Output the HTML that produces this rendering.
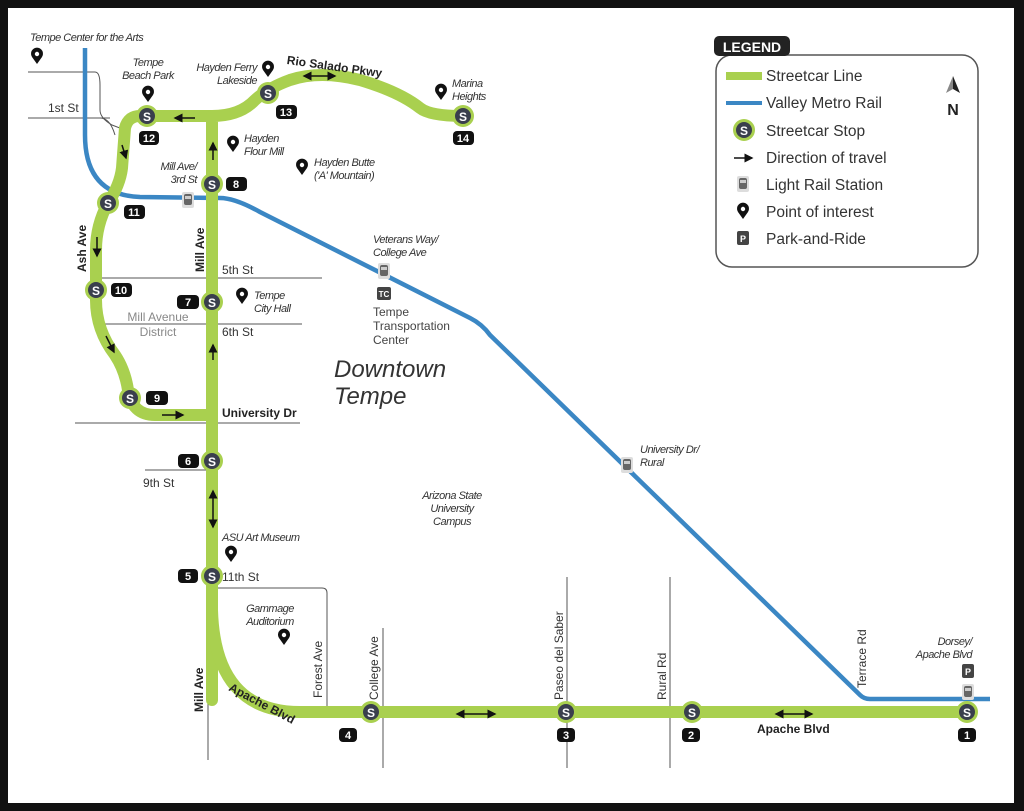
<!DOCTYPE html>
<html><head><meta charset="utf-8"><style>
html,body{margin:0;padding:0;background:#111;}
svg{display:block}
text{font-family:"Liberation Sans",sans-serif;}
.it{font-style:italic;font-size:11px;fill:#333;letter-spacing:-0.5px}
.st{font-size:12px;fill:#333}
.b{font-weight:bold;font-size:12px;fill:#222}
.lg{font-size:15.5px;fill:#333}
</style></head><body>
<svg width="1024" height="811" viewBox="0 0 1024 811" xmlns="http://www.w3.org/2000/svg">
<defs>
<g id="stop"><circle r="11" fill="#a9d04f"/><circle r="8" fill="#3a3f4d"/><text y="5" text-anchor="middle" font-size="12" font-weight="bold" fill="#fff" font-family="Liberation Sans">S</text></g>
<g id="pin"><path d="M0,7 L-5,0 A6,6 0 1 1 5,0 Z" fill="#111"/><circle cy="-3" r="2.2" fill="#fff"/></g>
<g id="rail"><rect x="-6" y="-8" width="12" height="16" rx="2" fill="#ddd"/><rect x="-4" y="-6" width="8" height="11" rx="2" fill="#666"/><rect x="-3" y="-4" width="6" height="3" fill="#ccc"/></g>
<marker id="ah" markerWidth="6" markerHeight="6" refX="5" refY="3" orient="auto"><path d="M0,0 L6,3 L0,6Z" fill="#111"/></marker>
<marker id="ahs" markerWidth="6" markerHeight="6" refX="1" refY="3" orient="auto-start-reverse"><path d="M0,0 L6,3 L0,6Z" fill="#111"/></marker>
</defs>
<rect x="8" y="8" width="1006" height="795" fill="#fff"/>
<g stroke="#555" stroke-width="1" fill="none">
<line x1="28" y1="72" x2="95" y2="72"/><path d="M95,72 Q100,72 100,85 L100,110 Q100,118 112,125 L125,130"/>
<line x1="28" y1="118" x2="110" y2="118"/><path d="M100,118 Q110,118 115,135"/>
<line x1="100" y1="278" x2="322" y2="278"/>
<line x1="100" y1="324" x2="302" y2="324"/>
<line x1="75" y1="423" x2="300" y2="423"/>
<line x1="145" y1="470" x2="212" y2="470"/>
<path d="M212,588 L322,588 Q327,588 327,593 L327,706"/>
<line x1="208" y1="600" x2="208" y2="760"/>
<line x1="383" y1="628" x2="383" y2="768"/>
<line x1="567" y1="577" x2="567" y2="768"/>
<line x1="670" y1="577" x2="670" y2="768"/>
</g>
<path d="M85,48 L85,135 Q85,195 140,197 L220,198 Q235,198 260,212 L470,318 Q482,324 490,335 L860,695 Q864,699 870,699 L990,699" stroke="#3b87c4" stroke-width="4.5" fill="none"/>
<g stroke="#a9d04f" stroke-width="12" fill="none" stroke-linejoin="round" stroke-linecap="round">
<path d="M212,116 L140,116 Q128,116 125,128 L122,168 Q120,185 108,203 Q96,225 96,250 L96,300 Q96,330 115,355 Q125,370 128,390 Q132,415 155,415 L212,415"/>
<path d="M212,700 L212,116 Q240,116 255,100 Q268,88 290,80 Q320,70 360,80 Q400,92 420,108 Q430,116 463,116"/>
<path d="M212,578 L212,610 Q215,712 300,712 L967,712"/>
</g>
<g stroke="#111" stroke-width="1.5">
<line x1="195" y1="118" x2="175" y2="118" marker-end="url(#ah)"/>
<line x1="213" y1="160" x2="213" y2="143" marker-end="url(#ah)"/>
<line x1="213" y1="360" x2="213" y2="345" marker-end="url(#ah)"/>
<line x1="122" y1="145" x2="126" y2="158" marker-end="url(#ah)"/>
<line x1="97" y1="237" x2="97" y2="256" marker-end="url(#ah)"/>
<line x1="106" y1="336" x2="114" y2="352" marker-end="url(#ah)"/>
<line x1="162" y1="415" x2="183" y2="415" marker-end="url(#ah)"/>
<line x1="213" y1="497" x2="213" y2="527" marker-start="url(#ahs)" marker-end="url(#ah)"/>
<line x1="310" y1="76" x2="335" y2="76" marker-start="url(#ahs)" marker-end="url(#ah)"/>
<line x1="463" y1="714" x2="495" y2="714" marker-start="url(#ahs)" marker-end="url(#ah)"/>
<line x1="782" y1="714" x2="812" y2="714" marker-start="url(#ahs)" marker-end="url(#ah)"/>
</g>
<use href="#stop" x="147" y="116"/><use href="#stop" x="268" y="93"/><use href="#stop" x="463" y="116"/>
<use href="#stop" x="212" y="184"/><use href="#stop" x="108" y="203"/><use href="#stop" x="96" y="290"/>
<use href="#stop" x="212" y="302"/><use href="#stop" x="130" y="398"/><use href="#stop" x="212" y="461"/>
<use href="#stop" x="212" y="576"/><use href="#stop" x="371" y="712"/><use href="#stop" x="566" y="712"/>
<use href="#stop" x="692" y="712"/><use href="#stop" x="967" y="712"/>
<g font-size="11" font-weight="bold" fill="#fff" text-anchor="middle">
<rect x="139" y="131" width="20" height="14" rx="4" fill="#111"/><text x="149" y="142">12</text>
<rect x="276" y="105" width="21" height="14" rx="4" fill="#111"/><text x="286" y="116">13</text>
<rect x="453" y="131" width="21" height="14" rx="4" fill="#111"/><text x="463" y="142">14</text>
<rect x="226" y="177" width="21" height="14" rx="4" fill="#111"/><text x="236" y="188">8</text>
<rect x="124" y="205" width="21" height="14" rx="4" fill="#111"/><text x="134" y="216">11</text>
<rect x="111" y="283" width="21" height="14" rx="4" fill="#111"/><text x="121" y="294">10</text>
<rect x="177" y="295" width="22" height="14" rx="4" fill="#111"/><text x="188" y="306">7</text>
<rect x="146" y="391" width="22" height="14" rx="4" fill="#111"/><text x="157" y="402">9</text>
<rect x="178" y="454" width="21" height="14" rx="4" fill="#111"/><text x="188" y="465">6</text>
<rect x="178" y="569" width="20" height="14" rx="4" fill="#111"/><text x="188" y="580">5</text>
<rect x="339" y="728" width="18" height="14" rx="4" fill="#111"/><text x="348" y="739">4</text>
<rect x="557" y="728" width="18" height="14" rx="4" fill="#111"/><text x="566" y="739">3</text>
<rect x="682" y="728" width="18" height="14" rx="4" fill="#111"/><text x="691" y="739">2</text>
<rect x="958" y="728" width="18" height="14" rx="4" fill="#111"/><text x="967" y="739">1</text>
</g>
<use href="#pin" x="37" y="57"/><use href="#pin" x="148" y="95"/><use href="#pin" x="268" y="70"/>
<use href="#pin" x="441" y="93"/><use href="#pin" x="233" y="145"/><use href="#pin" x="302" y="168"/>
<use href="#pin" x="242" y="297"/><use href="#pin" x="231" y="555"/><use href="#pin" x="284" y="638"/>
<use href="#rail" x="188" y="200"/><use href="#rail" x="384" y="271"/><use href="#rail" x="627" y="465"/><use href="#rail" x="968" y="692"/>
<rect x="377" y="287" width="14" height="13" rx="2" fill="#444"/><text x="384" y="297" font-size="8" fill="#fff" text-anchor="middle" font-weight="bold">TC</text>
<rect x="962" y="664" width="12" height="14" rx="2" fill="#444"/><text x="968" y="675" font-size="9" fill="#fff" text-anchor="middle" font-weight="bold">P</text>
<text class="it" x="30" y="41">Tempe Center for the Arts</text>
<text class="it" x="148" y="66" text-anchor="middle">Tempe</text><text class="it" x="148" y="79" text-anchor="middle">Beach Park</text>
<text class="it" x="257" y="71" text-anchor="end">Hayden Ferry</text><text class="it" x="257" y="84" text-anchor="end">Lakeside</text>
<text x="286" y="70" font-size="12" font-weight="bold" fill="#222" transform="rotate(8 330 70)">Rio Salado Pkwy</text>
<text class="it" x="452" y="87">Marina</text><text class="it" x="452" y="100">Heights</text>
<text class="st" x="48" y="112">1st St</text>
<text class="it" x="244" y="142">Hayden</text><text class="it" x="244" y="155">Flour Mill</text>
<text class="it" x="314" y="166">Hayden Butte</text><text class="it" x="314" y="179">('A' Mountain)</text>
<text class="it" x="197" y="170" text-anchor="end">Mill Ave/</text><text class="it" x="197" y="183" text-anchor="end">3rd St</text>
<text class="b" transform="translate(86 272) rotate(-90)">Ash Ave</text>
<text class="b" transform="translate(204 272) rotate(-90)">Mill Ave</text>
<text class="st" x="222" y="274">5th St</text>
<text class="st" x="222" y="336">6th St</text>
<text class="it" x="254" y="299">Tempe</text><text class="it" x="254" y="312">City Hall</text>
<text x="158" y="321" font-size="12" fill="#888" text-anchor="middle">Mill Avenue</text>
<text x="158" y="336" font-size="12" fill="#888" text-anchor="middle">District</text>
<text class="it" x="373" y="243">Veterans Way/</text><text class="it" x="373" y="256">College Ave</text>
<text x="373" y="316" font-size="12" fill="#444">Tempe</text><text x="373" y="330" font-size="12" fill="#444">Transportation</text><text x="373" y="344" font-size="12" fill="#444">Center</text>
<text x="334" y="377" font-size="24" fill="#333" font-style="italic">Downtown</text>
<text x="334" y="404" font-size="24" fill="#333" font-style="italic">Tempe</text>
<text class="b" x="222" y="417">University Dr</text>
<text class="st" x="143" y="487">9th St</text>
<text class="it" x="640" y="453">University Dr/</text><text class="it" x="640" y="466">Rural</text>
<text class="it" x="452" y="499" text-anchor="middle">Arizona State</text><text class="it" x="452" y="512" text-anchor="middle">University</text><text class="it" x="452" y="525" text-anchor="middle">Campus</text>
<text class="it" x="222" y="541">ASU Art Museum</text>
<text class="st" x="222" y="581">11th St</text>
<text class="it" x="270" y="612" text-anchor="middle">Gammage</text><text class="it" x="270" y="625" text-anchor="middle">Auditorium</text>
<text class="b" transform="translate(203 712) rotate(-90)">Mill Ave</text>
<text class="b" transform="translate(228 690) rotate(28)">Apache Blvd</text>
<text class="st" transform="translate(322 698) rotate(-90)">Forest Ave</text>
<text class="st" transform="translate(378 700) rotate(-90)">College Ave</text>
<text class="st" transform="translate(563 700) rotate(-90)">Paseo del Saber</text>
<text class="st" transform="translate(666 700) rotate(-90)">Rural Rd</text>
<text class="st" transform="translate(866 688) rotate(-90)">Terrace Rd</text>
<text class="b" x="757" y="733">Apache Blvd</text>
<text class="it" x="972" y="645" text-anchor="end">Dorsey/</text><text class="it" x="972" y="658" text-anchor="end">Apache Blvd</text>
<rect x="716" y="55" width="262" height="212" rx="16" fill="#fff" stroke="#555" stroke-width="1.5"/>
<rect x="714" y="36" width="76" height="20" rx="5" fill="#222"/>
<text x="752" y="52" font-size="14" font-weight="bold" fill="#fff" text-anchor="middle">LEGEND</text>
<rect x="726" y="72" width="36" height="8" fill="#a9d04f"/><text class="lg" x="766" y="81">Streetcar Line</text>
<rect x="726" y="101" width="36" height="4" fill="#3b87c4"/><text class="lg" x="766" y="108">Valley Metro Rail</text>
<use href="#stop" x="744" y="130"/><text class="lg" x="766" y="136">Streetcar Stop</text>
<line x1="734" y1="158" x2="752" y2="158" stroke="#111" stroke-width="1.5" marker-end="url(#ah)"/><text class="lg" x="766" y="163">Direction of travel</text>
<use href="#rail" x="743" y="184"/><text class="lg" x="766" y="190">Light Rail Station</text>
<use href="#pin" x="743" y="212"/><text class="lg" x="766" y="217">Point of interest</text>
<rect x="737" y="231" width="12" height="14" rx="2" fill="#444"/><text x="743" y="242" font-size="9" fill="#fff" text-anchor="middle" font-weight="bold">P</text><text class="lg" x="766" y="244">Park-and-Ride</text>
<path d="M953,76 L946,93 L953,89 Z" fill="#888"/><path d="M953,76 L960,93 L953,89 Z" fill="#222"/>
<text x="953" y="115" font-size="16" font-weight="bold" fill="#222" text-anchor="middle">N</text>
</svg>
</body></html>
